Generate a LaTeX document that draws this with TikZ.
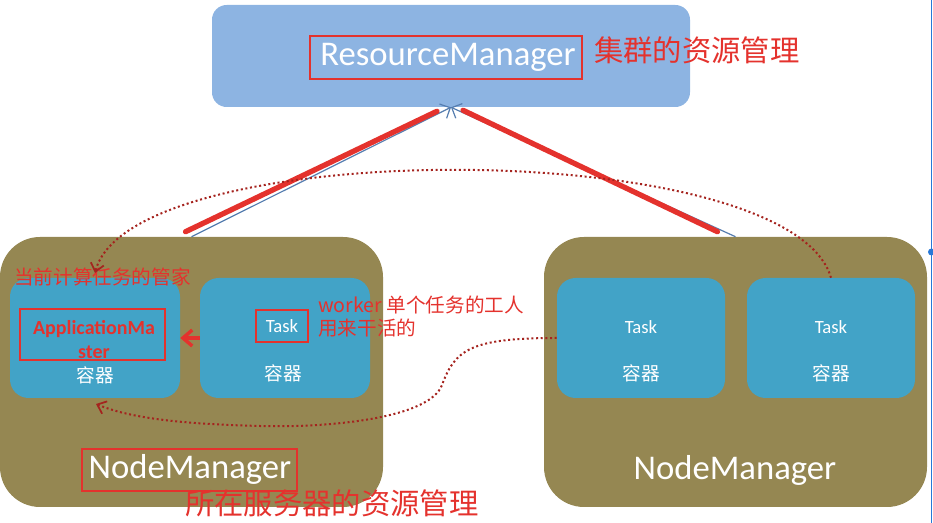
\documentclass[tikz,border=0pt]{standalone}
\usepackage{fontspec}
\setmainfont{Carlito}
\newfontfamily\cjk{Noto Sans CJK SC}
\usepackage{tikz}
\usetikzlibrary{arrows.meta,fit,calc}
\definecolor{rmblue}{RGB}{141,180,226}
\definecolor{nmolive}{RGB}{149,135,82}
\definecolor{ctblue}{RGB}{66,163,199}
\definecolor{annred}{RGB}{228,50,45}
\definecolor{dotred}{RGB}{165,35,30}
\definecolor{lineblue}{RGB}{85,125,175}
\definecolor{selblue}{RGB}{40,120,215}

\begin{document}
\begin{tikzpicture}[x=0.75pt,y=-0.75pt,
    nmbox/.style={fill=nmolive,rounded corners=30pt,inner sep=0pt},
    ctbox/.style={fill=ctblue,rounded corners=14pt,inner sep=0pt},
    redframe/.style={draw=annred,line width=1.6pt,inner sep=0pt},
    white text/.style={text=white,inner sep=0pt},
    note/.style={text=annred,inner sep=0pt,anchor=west,font=\cjk\fontsize{14.7}{17.5}\selectfont},
    bignote/.style={text=annred,inner sep=0pt,anchor=west,font=\cjk\fontsize{22}{26}\selectfont},
    report/.style={dotred,dotted,line width=1.5pt,-{Straight Barb[length=6pt,width=10pt,line width=1.3pt]}}]
    \useasboundingbox (0,0) rectangle (933,523);

    % ResourceManager
    \node[fit={(212,5) (690,107)},fill=rmblue,rounded corners=11pt,inner sep=0pt] (rm) {};
    \node[redframe,minimum width=204pt,minimum height=32pt] (rmframe) at (446,57.5) {};
    \node[white text,font=\fontsize{26}{30}\selectfont] (rmtxt) at (448,57) {ResourceManager};
    \node[bignote] (rmnote) at (594,50) {集群的资源管理};

    % NodeManager gauche
    \node[nmbox,fit={(0,237) (383,507)}] (nmL) {};
    \node[ctbox,fit={(10,278) (180,398)}] (am) {};
    \node[ctbox,fit={(200,278) (370,398)}] (taskL) {};
    \node[redframe,minimum width=108.75pt,minimum height=38.25pt] (amframe) at (92.5,334.5) {};
    \node[text=annred,inner sep=0pt,align=center,font=\bfseries\fontsize{15}{18}\selectfont] (amtxt) at (94,340) {ApplicationMa\\ster};
    \node[white text,font=\cjk\fontsize{14}{16}\selectfont] (amct) at (95,375) {容器};
    \node[redframe,minimum width=39pt,minimum height=24pt] (taskframe) at (282,326) {};
    \node[white text,font=\fontsize{14}{16}\selectfont] (tasktxtL) at (282,326) {Task};
    \node[white text,font=\cjk\fontsize{14}{16}\selectfont] (taskctL) at (283,373) {容器};
    \node[redframe,minimum width=161pt,minimum height=31.5pt] (nmframe) at (189.5,470) {};
    \node[white text,font=\fontsize{26}{30}\selectfont] (nmtxtL) at (190,469) {NodeManager};
    \node[note] (amnote) at (14,277) {当前计算任务的管家};
    \node[note,align=left] (worker) at (318,316.5) {worker 单个任务的工人\\用来干活的};
    \node[bignote] (nmnote) at (185,503) {所在服务器的资源管理};

    % NodeManager droite
    \node[nmbox,fit={(544,237) (927,507)}] (nmR) {};
    \node[ctbox,fit={(557,278) (725,398)}] (taskR1) {};
    \node[ctbox,fit={(747,278) (915,398)}] (taskR2) {};
    \foreach \c in {taskR1,taskR2} {
        \node[white text,font=\fontsize{14}{16}\selectfont] (\c txt) at ($(\c.center)+(0,-11)$) {Task};
        \node[white text,font=\cjk\fontsize{14}{16}\selectfont] (\c ct) at ($(\c.center)+(0,35)$) {容器};
    }
    \node[white text,font=\fontsize{26}{30}\selectfont] (nmtxtR) at (735,470) {NodeManager};

    % Liaisons
    \draw[lineblue,line width=0.9pt,-{Straight Barb[length=6pt,width=12pt]}] (nmL.north) -- (rm.south);
    \draw[lineblue,line width=0.9pt,-{Straight Barb[length=6pt,width=12pt]}] (nmR.north) -- (rm.south);
    \draw[annred,line width=4pt,line cap=round] ($(nmL.north)+(-6,-5)$) -- ($(rm.south)+(-14,4)$);
    \draw[annred,line width=4pt,line cap=round] ($(nmR.north)+(-18,-5)$) -- ($(rm.south)+(12,3)$);
    \draw[annred,line width=2.6pt,-{Straight Barb[length=7pt,width=12pt,line width=2.6pt]}] (taskL.west) -- (am.east);

    % Retours
    \coordinate (amtop) at (95,273);
    \coordinate (ambottom) at (96,404);
    \draw[report] (taskR2.north) .. controls (790,135) and (130,135) .. (amtop);
    \draw[report] (taskR1.west) .. controls (470,338) and (455,350) .. (442,385)
        .. controls (430,418) and (330,428) .. (260,426)
        .. controls (180,424) and (130,418) .. (ambottom);

    % Bord
    \draw[selblue,line width=1pt] (931.5,0) -- (931.5,523);
    \fill[selblue] (931.5,252) circle (3.5);
\end{tikzpicture}
\end{document}
